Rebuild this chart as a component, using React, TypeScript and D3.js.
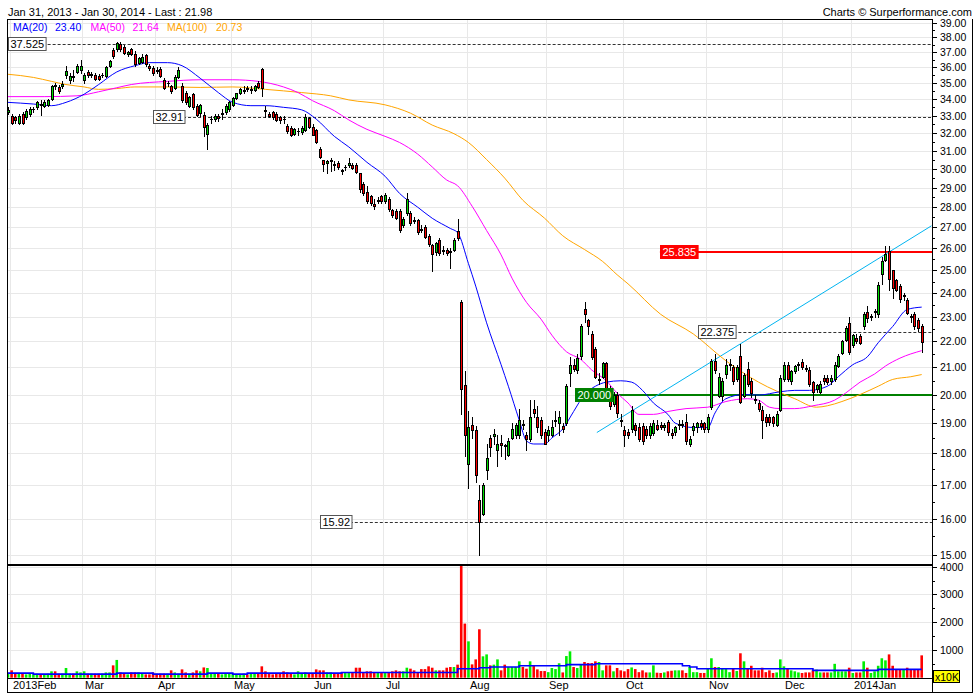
import React from "react";
import * as d3 from "d3";

// [open, high, low, close, volume (x10K)]
type Bar = [number, number, number, number, number];

const jan2013: Bar[] = [[33.25, 33.5, 33.1, 33.35, 170]];
const feb2013: Bar[] = [
  [33.0, 33.1, 32.5, 32.6, 265], [32.9, 33.0, 32.6, 32.75, 170], [32.6, 33.1, 32.5, 33.0, 170],
  [33.1, 33.2, 32.5, 32.6, 145], [32.95, 33.4, 32.8, 33.3, 120], [33.1, 33.5, 33.0, 33.4, 145],
  [33.38, 33.55, 33.2, 33.42, 120], [33.5, 33.9, 33.4, 33.8, 145], [33.7, 33.95, 33.05, 33.62, 120],
  [33.6, 33.95, 33.5, 33.85, 120], [33.65, 34.0, 33.6, 33.95, 145], [34.0, 34.9, 33.95, 34.8, 230],
  [34.88, 35.0, 34.6, 34.82, 230], [34.75, 34.9, 34.4, 34.5, 145], [34.8, 35.1, 34.7, 34.95, 145],
  [35.5, 36.1, 35.3, 35.75, 350], [35.2, 35.6, 35.0, 35.45, 145], [35.42, 35.8, 35.1, 35.38, 145],
  [35.7, 36.2, 35.6, 36.05, 230], [35.8, 36.5, 35.6, 36.05, 190],
];
const mar2013: Bar[] = [
  [35.2, 35.6, 35.0, 35.5, 230], [35.7, 35.8, 35.4, 35.5, 145], [35.52, 35.7, 35.4, 35.58, 145],
  [35.5, 35.6, 35.2, 35.25, 145], [35.45, 35.55, 35.2, 35.25, 145], [35.48, 35.6, 35.35, 35.52, 145],
  [35.45, 36.1, 35.4, 36.0, 190], [36.1, 36.5, 36.0, 36.4, 190], [37.15, 37.3, 36.6, 36.72, 445],
  [37.2, 37.7, 37.1, 37.6, 640], [37.55, 37.7, 37.1, 37.2, 190], [37.35, 37.5, 36.9, 36.95, 145],
  [36.85, 37.1, 36.75, 37.0, 120], [37.2, 37.3, 36.8, 36.85, 190], [36.9, 37.1, 36.1, 36.2, 190],
  [36.3, 36.7, 36.2, 36.6, 190], [36.35, 36.9, 36.3, 36.7, 145], [36.8, 36.9, 36.1, 36.2, 120],
  [36.05, 36.2, 35.8, 35.98, 120], [35.95, 36.1, 35.5, 35.6, 190],
];
const apr2013: Bar[] = [
  [35.82, 36.0, 35.6, 35.78, 145], [35.9, 36.0, 35.4, 35.45, 145], [35.2, 35.3, 34.6, 34.7, 145],
  [34.98, 35.1, 34.8, 35.02, 145], [34.8, 34.9, 34.4, 34.5, 265], [34.7, 35.5, 34.6, 35.4, 190],
  [35.4, 36.0, 35.3, 35.8, 145], [34.8, 35.0, 33.8, 33.95, 300], [34.4, 34.5, 33.7, 33.8, 190],
  [33.6, 34.2, 33.5, 34.1, 145], [34.3, 34.4, 33.4, 33.5, 190], [33.6, 33.7, 33.0, 33.05, 265],
  [33.15, 33.7, 33.0, 33.65, 230], [33.05, 33.2, 31.8, 32.35, 370], [31.95, 32.6, 31.1, 32.45, 350],
  [32.78, 33.0, 32.6, 32.82, 145], [32.8, 33.1, 32.7, 33.0, 145], [33.0, 33.1, 32.7, 32.85, 145],
  [33.12, 33.4, 32.8, 33.18, 120], [33.2, 33.7, 33.1, 33.6, 145], [33.4, 33.9, 33.3, 33.8, 145],
];
const may2013: Bar[] = [
  [33.65, 34.1, 33.6, 34.05, 145], [34.05, 34.4, 34.0, 34.35, 120], [34.35, 34.7, 34.3, 34.6, 120],
  [34.52, 34.8, 34.4, 34.58, 145], [34.7, 34.8, 34.5, 34.62, 120], [34.58, 34.8, 34.4, 34.62, 170],
  [34.55, 34.9, 34.5, 34.8, 170], [35.0, 35.1, 34.7, 34.75, 145], [35.9, 35.95, 34.2, 34.7, 410],
  [33.32, 33.6, 32.9, 33.28, 230], [33.1, 33.2, 32.9, 33.0, 145], [33.2, 33.3, 32.8, 32.9, 120],
  [33.1, 33.2, 32.7, 32.75, 170], [32.9, 33.0, 32.6, 32.75, 170], [32.82, 33.0, 32.6, 32.78, 230],
  [32.4, 32.5, 32.0, 32.1, 190], [32.3, 32.4, 31.8, 31.9, 145], [31.95, 32.3, 31.9, 32.2, 120],
  [32.08, 32.3, 31.9, 32.12, 230], [32.05, 32.4, 31.95, 32.3, 145], [32.15, 33.1, 32.1, 32.95, 190],
  [32.85, 32.95, 32.3, 32.35, 145],
];
const jun2013: Bar[] = [
  [32.35, 32.5, 31.85, 31.9, 145], [32.15, 32.2, 31.4, 31.45, 300], [31.1, 31.2, 30.6, 30.65, 265],
  [30.45, 30.5, 29.9, 30.25, 265], [30.3, 30.5, 29.8, 30.4, 190], [30.42, 30.6, 29.9, 30.48, 190],
  [30.28, 30.4, 29.95, 30.22, 170], [30.3, 30.4, 30.0, 30.1, 170], [29.92, 30.0, 29.7, 29.88, 190],
  [30.08, 30.2, 29.95, 30.12, 190], [30.2, 30.6, 30.1, 30.3, 190], [30.2, 30.3, 30.0, 30.05, 190],
  [30.2, 30.3, 29.8, 29.85, 360], [29.75, 29.8, 28.8, 28.95, 360], [29.2, 29.3, 28.6, 28.7, 190],
  [28.8, 29.1, 28.2, 28.3, 230], [28.55, 28.6, 28.1, 28.2, 230], [28.15, 28.4, 27.9, 28.05, 190],
  [28.32, 28.5, 28.2, 28.38, 170], [28.55, 28.6, 28.2, 28.3, 190],
];
const jul2013: Bar[] = [
  [28.3, 28.7, 28.2, 28.6, 190], [28.4, 28.5, 27.8, 27.9, 190], [27.85, 27.9, 27.5, 27.6, 230],
  [27.8, 27.9, 27.4, 27.45, 265], [27.8, 27.9, 26.8, 26.9, 230], [27.1, 27.5, 27.0, 27.4, 230],
  [27.7, 28.7, 27.6, 28.4, 360], [27.7, 27.8, 27.1, 27.2, 325], [27.38, 27.5, 27.2, 27.32, 265],
  [27.35, 27.4, 26.7, 26.8, 190], [26.92, 27.1, 26.8, 26.88, 310], [27.0, 27.1, 26.5, 26.55, 310],
  [26.6, 26.7, 26.1, 26.2, 410], [26.15, 26.2, 24.95, 25.75, 360], [25.85, 26.3, 25.7, 26.25, 265],
  [26.4, 26.5, 25.7, 25.8, 265], [25.92, 26.1, 25.75, 25.88, 265], [25.95, 26.0, 25.7, 25.8, 360],
  [25.88, 26.0, 25.1, 25.82, 385], [25.95, 26.5, 25.9, 26.4, 385], [26.85, 27.4, 26.4, 26.5, 470],
  [23.6, 23.7, 19.3, 20.2, 4100], [20.35, 20.85, 17.9, 18.6, 1950],
];
const aug2013: Bar[] = [
  [17.65, 19.4, 16.9, 18.85, 1310], [18.95, 19.2, 18.5, 18.75, 480], [18.75, 18.9, 17.1, 17.3, 660],
  [16.55, 17.0, 15.0, 15.9, 1745], [16.15, 17.05, 16.1, 17.0, 770], [17.45, 18.3, 17.2, 17.85, 840],
  [18.5, 18.6, 17.9, 18.2, 445], [18.58, 18.8, 18.3, 18.62, 470], [18.1, 18.6, 17.6, 18.3, 660],
  [18.32, 18.6, 17.9, 18.28, 265], [18.27, 18.3, 17.8, 18.23, 470], [17.95, 18.5, 17.9, 18.4, 385],
  [18.5, 19.0, 18.45, 18.8, 385], [18.6, 19.0, 18.5, 18.95, 385], [18.6, 19.5, 18.5, 19.1, 590],
  [18.97, 19.1, 18.8, 18.93, 385], [18.6, 18.7, 18.1, 18.45, 325], [18.45, 19.8, 18.4, 19.2, 590],
  [19.5, 19.8, 19.2, 19.35, 430], [19.2, 19.6, 18.7, 18.85, 300], [19.1, 19.2, 18.5, 18.6, 240],
  [18.7, 18.8, 18.3, 18.3, 240],
];
const sep2013: Bar[] = [
  [18.6, 18.9, 18.4, 18.75, 200], [18.6, 19.1, 18.55, 18.85, 350], [19.08, 19.4, 18.9, 19.12, 310],
  [19.0, 19.4, 18.6, 19.2, 520], [18.9, 19.0, 18.7, 18.8, 190], [19.0, 20.4, 18.95, 20.3, 780],
  [20.8, 21.4, 20.3, 21.1, 950], [21.1, 21.3, 20.85, 20.95, 385], [20.9, 21.5, 20.8, 21.35, 350],
  [21.45, 22.7, 21.3, 22.6, 470], [23.3, 23.6, 22.8, 23.1, 565], [22.85, 22.9, 22.3, 22.6, 530],
  [22.3, 22.4, 21.3, 21.4, 530], [21.7, 21.8, 20.6, 20.65, 590], [20.52, 20.8, 20.4, 20.58, 565],
  [20.65, 21.2, 20.6, 21.15, 265], [21.15, 21.2, 20.1, 20.15, 445], [20.05, 20.3, 19.5, 19.6, 445],
  [19.65, 20.1, 19.6, 20.0, 230], [20.0, 20.1, 19.2, 19.35, 350], [19.12, 19.3, 18.9, 19.08, 265],
];
const oct2013: Bar[] = [
  [18.75, 18.9, 18.25, 18.6, 230], [18.7, 18.8, 18.5, 18.6, 310], [18.8, 19.6, 18.7, 19.45, 370],
  [18.95, 19.0, 18.6, 18.75, 310], [18.85, 19.0, 18.4, 18.45, 200], [18.9, 19.0, 18.3, 18.4, 265],
  [18.8, 18.9, 18.5, 18.6, 190], [18.6, 19.0, 18.5, 18.9, 190], [18.65, 19.1, 18.6, 19.0, 445],
  [18.95, 19.1, 18.75, 18.8, 180], [18.95, 19.05, 18.8, 18.85, 170], [18.88, 19.0, 18.75, 18.92, 190],
  [19.05, 19.1, 18.6, 18.7, 230], [18.68, 18.8, 18.5, 18.6, 250], [18.7, 18.9, 18.6, 18.85, 265],
  [18.93, 19.1, 18.8, 18.97, 265], [18.97, 19.1, 18.85, 18.93, 265], [19.05, 19.3, 18.3, 18.4, 170],
  [18.3, 18.55, 18.25, 18.45, 385], [18.75, 19.0, 18.6, 18.9, 200], [18.85, 19.05, 18.7, 19.0, 200],
  [19.0, 19.1, 18.8, 18.9, 170], [19.0, 19.05, 18.7, 18.8, 170],
];
const nov2013: Bar[] = [
  [18.8, 19.3, 18.7, 19.2, 325], [19.55, 21.3, 19.5, 21.25, 700], [21.25, 21.5, 20.8, 20.9, 385],
  [19.95, 20.8, 19.9, 20.65, 385], [19.95, 20.6, 19.8, 20.5, 325], [20.75, 21.3, 20.6, 21.1, 325],
  [21.08, 21.3, 20.9, 21.12, 200], [21.0, 21.1, 20.4, 20.5, 325], [20.55, 21.1, 20.5, 21.0, 240],
  [21.45, 21.9, 19.7, 19.75, 880], [19.95, 20.8, 19.9, 20.7, 590], [20.95, 21.2, 20.3, 20.4, 325],
  [20.5, 20.6, 19.9, 20.05, 430], [19.85, 20.0, 19.7, 19.8, 265], [19.7, 19.8, 19.4, 19.5, 265],
  [19.45, 19.6, 18.5, 19.1, 360], [19.2, 19.3, 18.9, 19.05, 200], [19.2, 19.3, 18.95, 19.05, 265],
  [19.2, 19.25, 18.9, 19.0, 170], [18.95, 19.4, 18.9, 19.3, 190], [19.45, 20.7, 19.4, 20.6, 660],
];
const dec2013: Bar[] = [
  [20.55, 21.2, 20.5, 21.1, 410], [21.1, 21.2, 20.5, 20.55, 325], [20.5, 20.9, 20.4, 20.85, 265],
  [20.85, 21.1, 20.8, 21.05, 230], [21.08, 21.2, 20.9, 21.12, 190], [21.2, 21.3, 20.95, 21.0, 170],
  [20.97, 21.1, 20.85, 20.93, 190], [20.9, 21.0, 20.3, 20.4, 190], [20.45, 20.5, 19.8, 20.1, 265],
  [20.2, 20.4, 20.1, 20.35, 290], [20.1, 20.5, 20.05, 20.4, 190], [20.6, 20.7, 20.4, 20.5, 190],
  [20.6, 20.7, 20.4, 20.45, 190], [20.5, 20.7, 20.4, 20.6, 190], [20.55, 21.2, 20.5, 21.1, 500],
  [21.05, 21.5, 21.0, 21.45, 230], [21.55, 22.05, 21.5, 22.0, 230], [22.05, 22.6, 22.0, 22.55, 230],
  [22.75, 23.0, 21.5, 21.6, 360],
];
const jan2014: Bar[] = [
  [21.85, 22.3, 21.8, 22.25, 170], [22.15, 22.3, 21.95, 22.0, 190], [22.2, 22.3, 21.9, 21.95, 190],
  [22.6, 23.2, 22.5, 23.1, 590], [23.2, 23.45, 22.8, 22.95, 360], [22.98, 23.1, 22.85, 23.02, 170],
  [23.18, 23.3, 23.0, 23.22, 230], [23.1, 24.5, 23.0, 24.35, 430], [24.85, 25.6, 24.4, 25.4, 700],
  [25.45, 26.1, 25.4, 25.75, 625], [25.9, 26.1, 24.15, 24.6, 840], [25.0, 25.0, 23.8, 24.2, 430],
  [24.55, 24.6, 24.1, 24.15, 300], [24.3, 24.4, 23.6, 23.75, 300], [23.88, 24.0, 23.7, 23.92, 300],
  [23.7, 23.8, 23.1, 23.15, 360], [23.02, 23.1, 22.8, 22.98, 300], [23.1, 23.2, 22.5, 22.6, 300],
  [22.85, 22.95, 22.4, 22.55, 300], [22.6, 22.7, 21.6, 21.98, 805],
];

const MONTHS: Bar[][] = [jan2013, feb2013, mar2013, apr2013, may2013, jun2013, jul2013, aug2013, sep2013, oct2013, nov2013, dec2013, jan2014];
const MONTH_LABELS = ["", "2013Feb", "Mar", "Apr", "May", "Jun", "Jul", "Aug", "Sep", "Oct", "Nov", "Dec", "2014Jan"];

// moving averages: [bar index, value]
const MA20: [number, number][] = [
  [0, 33.8], [7, 33.7], [12, 33.6], [16, 33.8], [21, 34.3], [25, 34.9], [30, 35.7], [35, 36.1], [39, 36.3],
  [44, 36.3], [48, 36.1], [53, 35.3], [58, 34.4], [62, 33.8], [67, 33.6], [71, 33.6], [76, 33.5], [81, 33.35],
  [85, 32.8], [90, 31.8], [94, 31.2], [99, 30.35], [104, 29.6], [108, 28.7], [113, 28.0], [117, 27.45],
  [122, 26.95], [124, 26.75], [127, 25.3], [129, 24.3], [132, 22.75], [136, 21.1], [138, 20.3], [141, 19.1],
  [143, 18.4], [145, 18.3], [148, 18.3], [150, 18.5], [153, 18.8], [156, 19.4], [159, 20.0], [162, 20.3],
  [165, 20.45], [169, 20.5], [172, 20.45], [175, 20.15], [178, 19.7], [182, 19.3], [184, 19.0], [189, 18.85],
  [193, 18.85], [195, 19.35], [198, 19.85], [203, 20.0], [207, 19.98], [213, 20.1], [217, 20.15], [221, 20.15],
  [226, 20.3], [229, 20.65], [233, 21.1], [237, 21.4], [240, 21.95], [244, 22.6], [248, 23.3], [252, 23.4],
];
const MA50: [number, number][] = [
  [0, 34.15], [10, 34.15], [19, 34.2], [25, 34.45], [30, 34.7], [34, 34.9], [44, 35.1], [53, 35.2], [62, 35.2],
  [69, 35.1], [76, 34.75], [80, 34.4], [84, 33.9], [90, 33.3], [94, 32.75], [99, 32.2], [104, 31.8],
  [108, 31.45], [113, 30.8], [117, 30.1], [121, 29.4], [124, 29.1], [128, 28.05], [132, 26.85], [136, 25.7],
  [139, 24.65], [143, 23.6], [147, 22.9], [150, 22.25], [154, 21.6], [158, 21.3], [161, 20.9], [165, 20.5],
  [168, 20.05], [171, 19.7], [174, 19.3], [178, 19.3], [182, 19.4], [187, 19.5], [193, 19.55], [198, 19.75],
  [204, 19.85], [207, 19.8], [210, 19.55], [213, 19.5], [217, 19.5], [222, 19.6], [228, 19.8], [231, 20.05],
  [235, 20.45], [239, 20.75], [242, 21.05], [246, 21.35], [252, 21.64],
];
const MA100: [number, number][] = [
  [0, 35.55], [7, 35.35], [12, 35.1], [16, 34.9], [21, 34.75], [25, 34.6], [30, 34.65], [35, 34.75], [44, 34.75],
  [53, 34.72], [62, 34.75], [71, 34.6], [81, 34.4], [89, 34.2], [94, 33.95], [104, 33.65], [111, 33.15],
  [117, 32.45], [123, 31.95], [127, 31.45], [132, 30.5], [137, 29.5], [142, 28.35], [148, 27.45], [153, 26.6],
  [159, 25.95], [164, 25.4], [168, 24.8], [171, 24.4], [180, 23.1], [189, 22.3], [198, 21.25], [207, 20.45],
  [217, 19.85], [223, 19.55], [226, 19.6], [230, 19.75], [235, 20.0], [240, 20.3], [244, 20.55], [249, 20.65],
  [252, 20.73],
];
const VOL_MA: [number, number][] = [
  [0, 165], [7, 130], [30, 165], [40, 130], [55, 165], [62, 130], [66, 165], [92, 190], [122, 190], [124, 325],
  [130, 360], [133, 385], [141, 430], [154, 470], [162, 505], [184, 505], [186, 430], [188, 385], [190, 325],
  [222, 265], [240, 300], [252, 300],
];
const TREND: [number, number][] = [[162.4, 18.68], [254.7, 27.08]];

const DASHED_LEVELS = [37.525, 32.91, 22.375, 15.92];
const DASHED_LABEL_AT = [-0.1, 40, 190.4, 86];
const RED_LEVEL = 25.835;
const RED_LABEL_AT = 179.8;
const GREEN_LEVEL = 20;
const GREEN_LABEL_AT = 156.4;

const PRICE_TICKS = [15, 16, 17, 18, 19, 20, 21, 22, 23, 24, 25, 26, 27, 28, 29, 30, 31, 32, 33, 34, 35, 36, 37, 38, 39];
const VOL_TICKS = [1000, 2000, 3000, 4000];
const LEGEND = [
  { name: "MA(20)", value: "23.40", color: "#0000ff" },
  { name: "MA(50)", value: "21.64", color: "#ff00ff" },
  { name: "MA(100)", value: "20.73", color: "#ffa500" },
];
const TITLE = "Jan 31, 2013 - Jan 30, 2014 - Last : 21.98";
const CREDIT = "Charts \u00a9 Surperformance.com";

const FONT = "'Liberation Sans', Arial, sans-serif";
const L = 7, T = 19, R = 932, FR = 972, MAIN_B = 565, VOL_B = 678, B = 692;

export default function App() {
  const bars: Bar[] = MONTHS.flat();
  const N = bars.length;
  const monthStarts: number[] = [];
  let acc = 0;
  MONTHS.forEach((m) => { monthStarts.push(acc); acc += m.length; });

  const x = d3.scaleLinear().domain([0, N - 1]).range([8, 921.7]);
  const y = d3.scaleLog().domain([15, 39]).range([554.7, 22.7]);
  const yv = d3.scaleLinear().domain([0, 4000]).range([677.7, 566.7]);

  const maLine = d3.line<[number, number]>().x((d) => x(d[0])).y((d) => y(d[1])).curve(d3.curveMonotoneX);
  const volLine = d3.line<[number, number]>().x((d) => x(d[0])).y((d) => yv(d[1])).curve(d3.curveStepAfter);
  const f2 = d3.format(".2f");
  const f3 = d3.format(".3f");
  const crisp = (v: number) => Math.round(v) + 0.5;

  const greenC = "#00dd00", redC = "#ff0000";

  const labelBox = (value: string, left: number, cy: number, fill: string, textFill: string, stroke: string, key: string) => {
    const w = value.length * 6.1 + 1;
    return (
      <g key={key}>
        <rect x={Math.round(left) + 0.5} y={Math.round(cy) - 6.5} width={w} height={13} fill={fill} stroke={stroke} strokeWidth={1} />
        <text x={Math.round(left) + 2.5} y={Math.round(cy) + 4} fontSize={11} fill={textFill} fontFamily={FONT}>{value}</text>
      </g>
    );
  };

  return (
    <div style={{ position: "absolute", left: 0, top: 0 }}>
      <svg width={980} height={700} style={{ display: "block", background: "#fff" }} fontFamily={FONT}>
        <defs>
          <clipPath id="mainClip"><rect x={L} y={T} width={R - L} height={MAIN_B - T} /></clipPath>
          <clipPath id="volClip"><rect x={L} y={MAIN_B} width={R - L} height={VOL_B - MAIN_B} /></clipPath>
        </defs>
        <rect x={0} y={0} width={980} height={700} fill="#fff" />

        {/* title and credit */}
        <text x={8} y={16} fontSize={11} fill="#000">{TITLE}</text>
        <text x={972} y={16} fontSize={11} fill="#000" textAnchor="end">{CREDIT}</text>

        {/* horizontal grid main */}
        {PRICE_TICKS.map((p) => (
          <line key={"hg" + p} x1={L} x2={R} y1={crisp(y(p))} y2={crisp(y(p))} stroke="#e8e8e8" />
        ))}
        {/* volume grid */}
        {VOL_TICKS.map((v) => (
          <line key={"vg" + v} x1={L} x2={R} y1={crisp(yv(v))} y2={crisp(yv(v))} stroke="#e8e8e8" />
        ))}
        {/* vertical grid */}
        {monthStarts.slice(1).map((s) => (
          <line key={"mg" + s} x1={crisp(x(s - 0.5))} x2={crisp(x(s - 0.5))} y1={T} y2={VOL_B} stroke="#e8e8e8" />
        ))}

        {/* main panel */}
        <g clipPath="url(#mainClip)">
          {/* dashed levels */}
          {DASHED_LEVELS.map((lv, k) => (
            <line key={"dl" + k} x1={x(DASHED_LABEL_AT[k])} x2={R} y1={crisp(y(lv))} y2={crisp(y(lv))} stroke="#333" strokeDasharray="3,2" />
          ))}
          <line x1={x(RED_LABEL_AT)} x2={R} y1={Math.round(y(RED_LEVEL))} y2={Math.round(y(RED_LEVEL))} stroke="#ff0000" strokeWidth={2} />
          <line x1={x(GREEN_LABEL_AT)} x2={R} y1={Math.round(y(GREEN_LEVEL))} y2={Math.round(y(GREEN_LEVEL))} stroke="#008000" strokeWidth={2} />
          {/* trend line */}
          <line x1={x(TREND[0][0])} y1={y(TREND[0][1])} x2={x(TREND[1][0])} y2={y(TREND[1][1])} stroke="#00b4f0" strokeWidth={1} />
          {/* moving averages */}
          <path d={maLine(MA100) || ""} fill="none" stroke="#ffa500" strokeWidth={1} />
          <path d={maLine(MA50) || ""} fill="none" stroke="#ff00ff" strokeWidth={1} />
          <path d={maLine(MA20) || ""} fill="none" stroke="#0000ff" strokeWidth={1} />
          {/* candles */}
          {bars.map((b, i) => {
            const [o, h, l, c] = b;
            const cx = Math.round(x(i));
            const top = Math.round(y(Math.max(o, c))) + 0.5;
            const bot = Math.round(y(Math.min(o, c))) + 0.5;
            const up = c >= o;
            return (
              <g key={"c" + i}>
                <line x1={cx + 0.5} x2={cx + 0.5} y1={Math.round(y(h))} y2={Math.round(y(l)) + 1} stroke="#000" />
                {bot - top < 1 ? (
                  <line x1={cx - 1} x2={cx + 2} y1={top} y2={top} stroke="#000" />
                ) : (
                  <rect x={cx - 0.5} y={top} width={2} height={bot - top} fill={up ? greenC : redC} stroke="#000" />
                )}
              </g>
            );
          })}
        </g>

        {/* level labels */}
        {DASHED_LEVELS.map((lv, k) => labelBox(String(lv), x(DASHED_LABEL_AT[k]), y(lv), "#fff", "#000", "#555", "lb" + k))}
        {labelBox(String(RED_LEVEL), x(RED_LABEL_AT), y(RED_LEVEL), "#ff0000", "#fff", "#ff0000", "lbr")}
        {labelBox(f3(GREEN_LEVEL), x(GREEN_LABEL_AT), y(GREEN_LEVEL), "#008000", "#fff", "#008000", "lbg")}

        {/* legend */}
        {LEGEND.map((m, k) => {
          const xs = [13, 90.5, 167];
          const xv = [55, 132.5, 216];
          return (
            <g key={"lg" + k} fontSize={10.5} fill={m.color}>
              <text x={xs[k]} y={31}>{m.name}</text>
              <text x={xv[k]} y={31}>{m.value}</text>
            </g>
          );
        })}

        {/* volume */}
        <g clipPath="url(#volClip)">
          {bars.map((b, i) => {
            const up = b[3] >= b[0];
            const top = yv(b[4]);
            return <rect key={"v" + i} x={x(i) - 1.3} y={top} width={2.6} height={yv(0) - top} fill={up ? "#00ee00" : "#ff0000"} />;
          })}
          <path d={volLine(VOL_MA) || ""} fill="none" stroke="#0000ff" strokeWidth={1.6} />
        </g>

        {/* frame */}
        <line x1={L + 0.5} x2={L + 0.5} y1={T} y2={B} stroke="#000" />
        <line x1={L} x2={R} y1={T + 0.5} y2={T + 0.5} stroke="#000" />
        <line x1={R + 0.5} x2={R + 0.5} y1={T} y2={B} stroke="#000" />
        <line x1={FR + 0.5} x2={FR + 0.5} y1={T} y2={B} stroke="#000" />
        <line x1={L} x2={FR + 1} y1={B + 0.5} y2={B + 0.5} stroke="#000" />
        <line x1={L} x2={R} y1={MAIN_B} y2={MAIN_B} stroke="#000" strokeWidth={2} />
        <line x1={L} x2={R} y1={VOL_B + 0.5} y2={VOL_B + 0.5} stroke="#000" />

        {/* price axis */}
        {PRICE_TICKS.map((p) => (
          <g key={"pt" + p}>
            <line x1={R} x2={R + 5} y1={crisp(y(p))} y2={crisp(y(p))} stroke="#000" />
            <text x={R + 8} y={Math.round(y(p)) + 4} fontSize={10.5} fill="#000">{f2(p)}</text>
          </g>
        ))}
        {PRICE_TICKS.slice(0, -1).map((p) => (
          <line key={"pm" + p} x1={R} x2={R + 3} y1={crisp(y(p + 0.5))} y2={crisp(y(p + 0.5))} stroke="#000" />
        ))}
        {/* volume axis */}
        {VOL_TICKS.map((v) => (
          <g key={"vt" + v}>
            <line x1={R} x2={R + 5} y1={crisp(yv(v))} y2={crisp(yv(v))} stroke="#000" />
            <text x={R + 8} y={Math.round(yv(v)) + 4} fontSize={10.5} fill="#000">{v}</text>
          </g>
        ))}
        {VOL_TICKS.map((v) => (
          <line key={"vm" + v} x1={R} x2={R + 3} y1={crisp(yv(v - 500))} y2={crisp(yv(v - 500))} stroke="#000" />
        ))}
        <rect x={933.5} y={670.5} width={26} height={12} fill="#ffff00" stroke="#000" />
        <text x={935} y={680.5} fontSize={10.5} fill="#000">x10K</text>

        {/* month labels */}
        {monthStarts.slice(1).map((s, k) => (
          <text key={"ml" + s} x={Math.round(x(s - 0.5)) + 3} y={688.5} fontSize={11} fill="#000">{MONTH_LABELS[k + 1]}</text>
        ))}
      </svg>
    </div>
  );
}
